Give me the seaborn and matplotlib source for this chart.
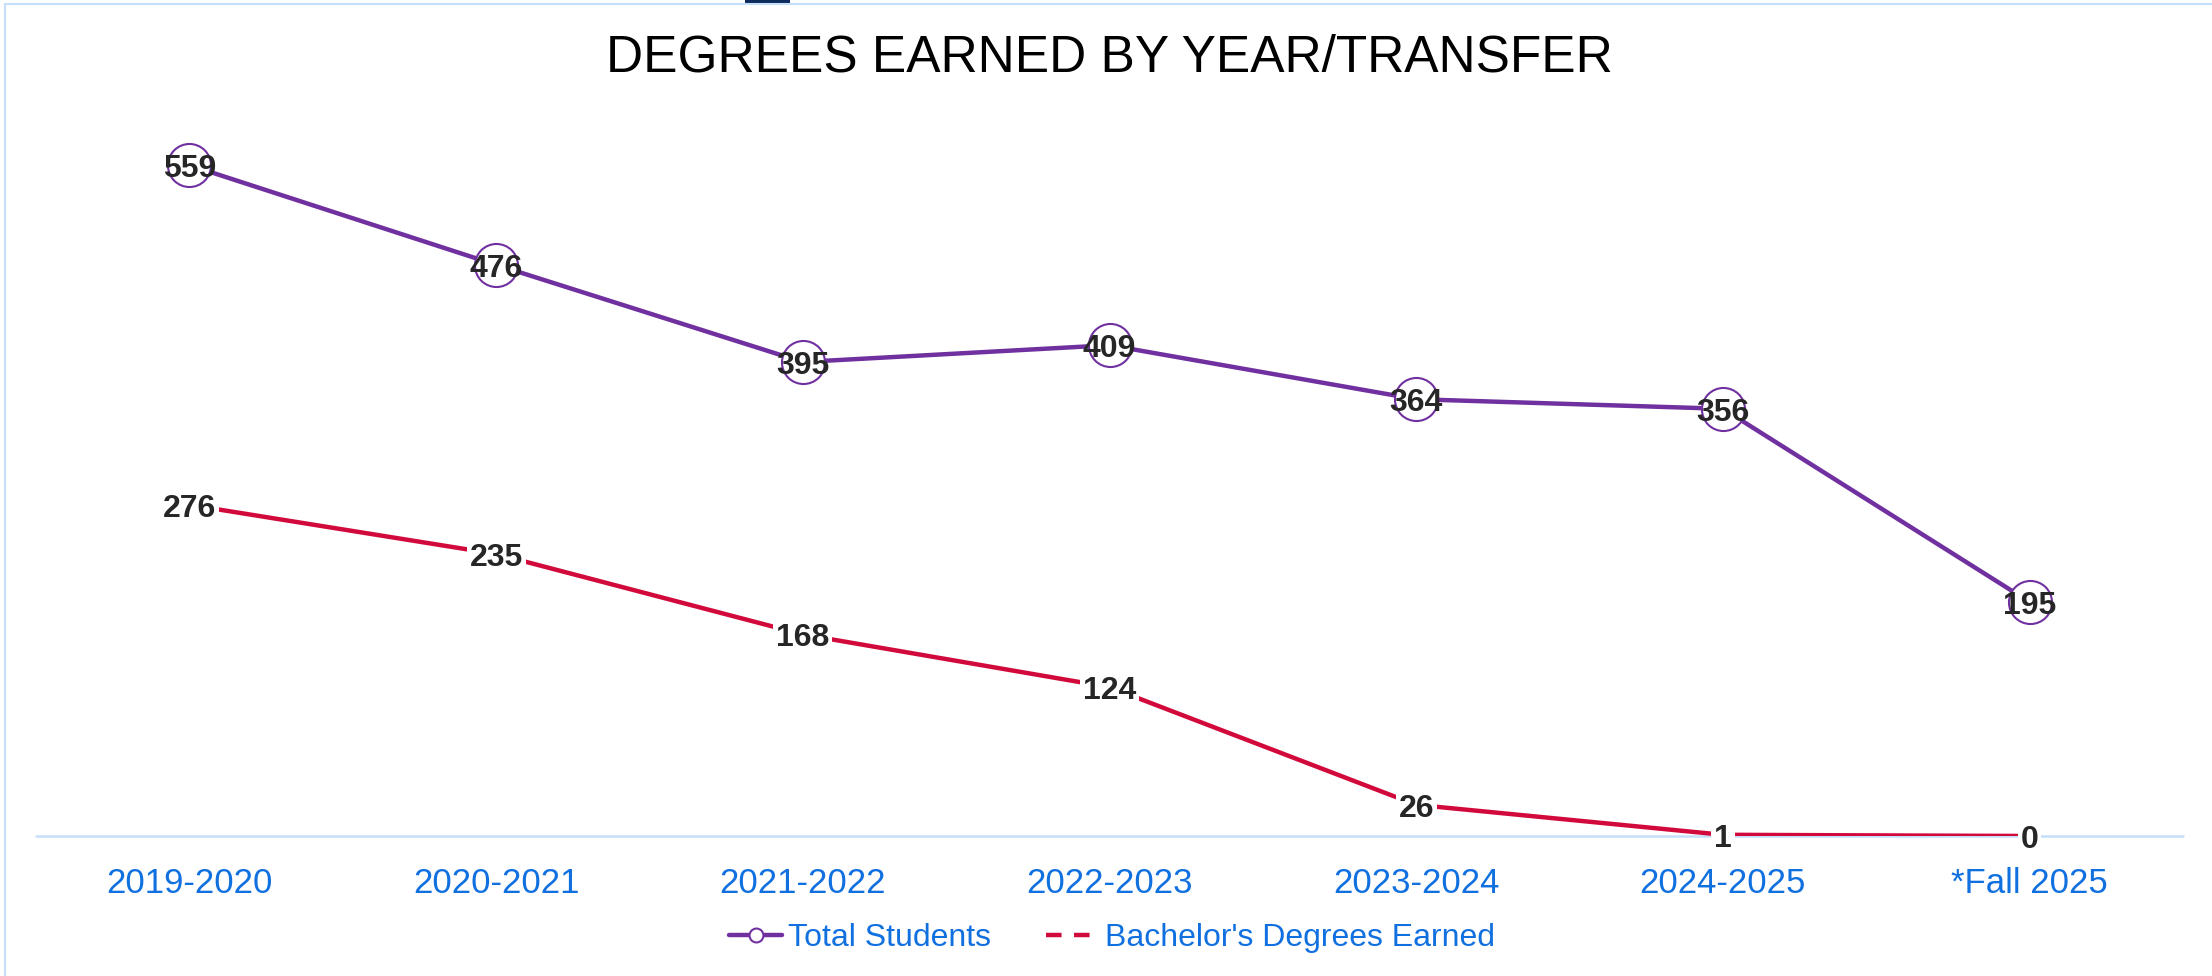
import matplotlib

matplotlib.use("Agg")
import matplotlib.pyplot as plt
import pandas as pd
import seaborn as sns
from matplotlib.lines import Line2D
from matplotlib.patches import Rectangle

years = ["2019-2020", "2020-2021", "2021-2022", "2022-2023", "2023-2024", "2024-2025", "*Fall 2025"]
total_students = [559, 476, 395, 409, 364, 356, 195]
bachelors_earned = [276, 235, 168, 124, 26, 1, 0]
series_names = ["Total Students", "Bachelor's Degrees Earned"]

PURPLE = "#7030A0"
RED = "#D20A3C"
BLUE_TEXT = "#1170E0"
LIGHT_BLUE = "#C5DFFA"
LABEL_COLOR = "#262626"

df = pd.DataFrame({"pos": range(len(years)), "Year": years,
                   "total": total_students, "bachelors": bachelors_earned})

sns.set_theme(style="white")
plt.rcParams["font.family"] = ["Liberation Sans", "DejaVu Sans"]

W, H = 2212, 976
fig = plt.figure(figsize=(W / 100, H / 100), dpi=100)
# axes box in pixels: x 36..2183, y (from top) 116..836
ax = fig.add_axes([36 / W, (H - 836) / H, (2183 - 36) / W, (836 - 116) / H])

sns.lineplot(data=df, x="pos", y="total", ax=ax, color=PURPLE, lw=3.2,
             marker="o", markersize=31, markerfacecolor="white",
             markeredgecolor=PURPLE, markeredgewidth=1.5, zorder=3)
sns.lineplot(data=df, x="pos", y="bachelors", ax=ax, color=RED, lw=3.2, zorder=2)

ax.set_xlim(-0.5, len(years) - 0.5)
ax.set_ylim(0, 600)

# baseline
ax.axhline(0, color=LIGHT_BLUE, lw=1.8, zorder=1, clip_on=False)

# data labels, digits centred on the points
for i, v in enumerate(total_students):
    ax.annotate(str(v), (i, v), xytext=(0, -8.5), textcoords="offset points",
                ha="center", va="baseline", fontsize=23, fontweight="bold",
                color=LABEL_COLOR, zorder=6)
for i, v in enumerate(bachelors_earned):
    ax.annotate(str(v), (i, v), xytext=(0, -8.5), textcoords="offset points",
                ha="center", va="baseline", fontsize=23, fontweight="bold",
                color=LABEL_COLOR, zorder=6, annotation_clip=False,
                bbox=dict(facecolor="white", edgecolor="none", pad=2))

for s in ax.spines.values():
    s.set_visible(False)
ax.set_xticks(range(len(years)))
ax.set_xticklabels(years, color=BLUE_TEXT, fontsize=25)
ax.set_yticks([])
ax.tick_params(axis="x", length=0, pad=22)
ax.set_xlabel("")
ax.set_ylabel("")

fig.text(0.5015, 1 - 72 / H, "DEGREES EARNED BY YEAR/TRANSFER", ha="center",
         va="baseline", fontsize=37, color="black")

handles = [
    Line2D([], [], color=PURPLE, lw=3.2, marker="o", markersize=10,
           markerfacecolor="white", markeredgecolor=PURPLE, markeredgewidth=1.5),
    Line2D([], [], color=RED, lw=3.2, linestyle=(0, (3.5, 2.8))),
]
fig.legend(handles, series_names, loc="center", bbox_to_anchor=(0.5027, 1 - 938 / H),
           ncol=2, frameon=False, fontsize=23, labelcolor=BLUE_TEXT,
           handlelength=1.65, handletextpad=0.2, columnspacing=1.7)

# outer frame lines and small tab at the top
fig.add_artist(Line2D([5 / W, 5 / W], [0, 1 - 4 / H], transform=fig.transFigure,
                      color=LIGHT_BLUE, lw=1.5))
fig.add_artist(Line2D([5 / W, 1], [1 - 4 / H, 1 - 4 / H], transform=fig.transFigure,
                      color=LIGHT_BLUE, lw=1.5))
fig.add_artist(Rectangle((745 / W, 1 - 3 / H), 45 / W, 3 / H, transform=fig.transFigure,
                         facecolor="#0D2B5E", edgecolor="none"))

fig.savefig("out.png", dpi=100)
plt.close(fig)
